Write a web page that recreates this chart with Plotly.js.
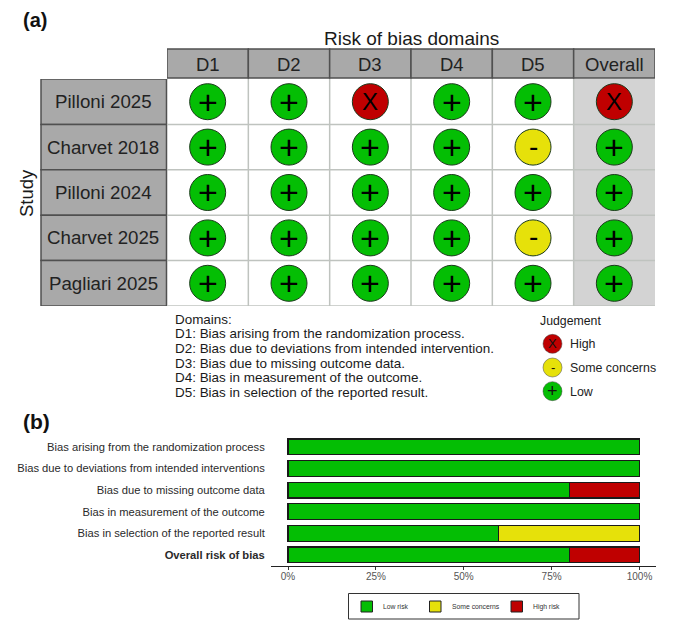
<!DOCTYPE html>
<html><head><meta charset="utf-8">
<script src="https://cdn.plot.ly/plotly-3.0.1.min.js"></script>
<style>html,body{margin:0;padding:0;background:#fff}#c{width:678px;height:629px}</style></head>
<body><div id="c"></div>
<script>
const domains = ['D1','D2','D3','D4','D5','Overall'];
const studies = ['Pilloni 2025','Charvet 2018','Pilloni 2024','Charvet 2025','Pagliari 2025'];
const pilloni2025 = ['Low','Low','High','Low','Low','High'];
const charvet2018 = ['Low','Low','Low','Low','Some concerns','Low'];
const pilloni2024 = ['Low','Low','Low','Low','Low','Low'];
const charvet2025 = ['Low','Low','Low','Low','Some concerns','Low'];
const pagliari2025 = ['Low','Low','Low','Low','Low','Low'];
const judgements = [pilloni2025,charvet2018,pilloni2024,charvet2025,pagliari2025];
const levels = ['High','Some concerns','Low'];
const domainNotes = ['Domains:','D1: Bias arising from the randomization process.','D2: Bias due to deviations from intended intervention.','D3: Bias due to missing outcome data.','D4: Bias in measurement of the outcome.','D5: Bias in selection of the reported result.'];
const biasItems = ['Bias arising from the randomization process','Bias due to deviations from intended interventions','Bias due to missing outcome data','Bias in measurement of the outcome','Bias in selection of the reported result','<b>Overall risk of bias</b>'];
const lowRisk = [100,100,80,100,60,80];
const someConcerns = [0,0,0,0,40,0];
const highRisk = [0,0,20,0,0,20];
const legendNames = ['Low risk','Some concerns','High risk'];

const W=678,H=629, px=x=>x/W, py=y=>1-y/H;
const GREEN='#04BE04',YEL='#E6E10A',RED='#BF0000';
const col={High:RED,'Some concerns':YEL,Low:GREEN};
const sym={High:'X','Some concerns':'-',Low:'+'};
const symSize={High:24,'Some concerns':28,Low:34};
const symShift={High:0,'Some concerns':1,Low:0};
const legSize={High:13,'Some concerns':13,Low:18};
const legShift={High:0,'Some concerns':0,Low:0};
const FONT='"Liberation Sans", Arial, sans-serif';

const gx=[],gy=[],gj=[];
judgements.forEach((row,i)=>row.forEach((j,k)=>{gx.push(domains[k]);gy.push(studies[i]);gj.push(j);}));
const barLine={color:'#1a1a1a',width:1.2};
const traces=[
 {type:'scatter',mode:'markers',xaxis:'x',yaxis:'y',x:gx,y:gy,cliponaxis:false,showlegend:false,
  marker:{size:36,color:gj.map(j=>col[j]),line:{color:'#1c3a1c',width:1}}},
 {type:'scatter',mode:'markers',xaxis:'x3',yaxis:'y3',x:levels.map(()=>0),y:levels,showlegend:false,
  marker:{size:19,color:levels.map(j=>col[j]),line:{color:'#444',width:.5}}},
 {type:'bar',orientation:'h',xaxis:'x2',yaxis:'y2',name:legendNames[0],y:biasItems,x:lowRisk,marker:{color:GREEN,line:barLine},showlegend:false},
 {type:'bar',orientation:'h',xaxis:'x2',yaxis:'y2',name:legendNames[1],y:biasItems,x:someConcerns,marker:{color:YEL,line:barLine},showlegend:false},
 {type:'bar',orientation:'h',xaxis:'x2',yaxis:'y2',name:legendNames[2],y:biasItems,x:highRisk,marker:{color:RED,line:barLine},showlegend:false}
];

const shapes=[],ann=[];
const T0=79,T1=306,S0=49,LX0=41,LX1=166.5;
gj.forEach((j,n)=>ann.push({xref:'x',yref:'y',x:gx[n],y:gy[n],text:sym[j],showarrow:false,xanchor:'center',yanchor:'middle',yshift:symShift[j],font:{family:FONT,size:symSize[j],color:'#000'}}));
levels.forEach(j=>ann.push({xref:'x3',yref:'y3',x:0,y:j,text:sym[j],showarrow:false,xanchor:'center',yanchor:'middle',yshift:legShift[j],font:{family:FONT,size:legSize[j],color:'#111'}}));
shapes.push({type:'rect',layer:'below',xref:'x',yref:'paper',x0:4.5,x1:5.5,y0:py(T1),y1:py(T0),fillcolor:'#d3d3d3',line:{width:0}});
for(let k=1;k<6;k++)shapes.push({type:'line',layer:'below',xref:'x',yref:'paper',x0:k-.5,x1:k-.5,y0:py(T1),y1:py(T0),line:{color:'#bfc3bf',width:1.5}});
for(let i=1;i<=5;i++)shapes.push({type:'line',layer:'below',xref:'x',yref:'y',x0:-.5,x1:5.5,y0:i-.5,y1:i-.5,line:{color:'#bfc3bf',width:1.5}});
domains.forEach((d,k)=>{
 shapes.push({type:'rect',layer:'below',xref:'x',yref:'paper',x0:k-.5,x1:k+.5,y0:py(T0-1),y1:py(S0),fillcolor:'#a9a9a9',line:{color:'#505050',width:1.5}});
 ann.push({xref:'x',yref:'paper',x:k,y:py(64.5),text:d,showarrow:false,xanchor:'center',yanchor:'middle',font:{family:FONT,size:18.5,color:'#222'}});
});
studies.forEach((s,i)=>{
 shapes.push({type:'rect',layer:'below',xref:'paper',yref:'y',x0:px(LX0),x1:px(LX1),y0:i-.5,y1:i+.5,fillcolor:'#a9a9a9',line:{color:'#505050',width:1.5}});
 ann.push({xref:'paper',yref:'y',x:px(103.5),y:s,text:s,showarrow:false,xanchor:'center',yanchor:'middle',font:{family:FONT,size:18.7,color:'#222'}});
});
const txt=(x,y,text,size,o={})=>ann.push(Object.assign({xref:'paper',yref:'paper',x:px(x),y:py(y),text,showarrow:false,xanchor:'left',yanchor:'middle',font:{family:FONT,size,color:'#1a1a1a'}},o));
txt(21,19.5,'<b>(a)</b>',20,{font:{family:FONT,size:20,color:'#111'}});
txt(21,421,'<b>(b)</b>',21,{font:{family:FONT,size:21,color:'#111'}});
txt(411,38,'Risk of bias domains',19,{xanchor:'center'});
txt(26,193,'Study',18.5,{xanchor:'center',textangle:-90});
domainNotes.forEach((t,i)=>txt(173,319+i*14.7,t,13.45));
txt(538,320.5,'Judgement',12.3);

shapes.push({type:'rect',xref:'paper',yref:'paper',x0:px(348.5),x1:px(579),y0:py(619),y1:py(593.5),line:{color:'#333',width:1},fillcolor:'rgba(0,0,0,0)'});
[[361,381],[429.5,449.7],[511,531]].forEach((p,i)=>{
 shapes.push({type:'rect',xref:'paper',yref:'paper',x0:px(p[0]),x1:px(p[0]+11.5),y0:py(612),y1:py(601),fillcolor:[GREEN,YEL,RED][i],line:{color:'#222',width:1}});
 txt(p[1],606.5,legendNames[i],6.8,{font:{family:FONT,size:6.8,color:'#333'}});
});

const layout={
 width:W,height:H,margin:{l:0,r:0,t:0,b:0},paper_bgcolor:'#fff',plot_bgcolor:'rgba(0,0,0,0)',
 font:{family:FONT},barmode:'stack',bargap:.27,showlegend:false,
 xaxis:{domain:[px(167),px(655)],type:'category',categoryorder:'array',categoryarray:domains,range:[-.5,5.5],showgrid:false,zeroline:false,showticklabels:false,ticks:'',anchor:'y'},
 yaxis:{domain:[py(T1),py(T0)],type:'category',categoryorder:'array',categoryarray:studies,range:[4.5,-.5],showgrid:false,zeroline:false,showticklabels:false,ticks:'',anchor:'x'},
 xaxis3:{domain:[px(536),px(569)],range:[-1,1],visible:false,anchor:'y3',fixedrange:true},
 yaxis3:{domain:[py(403),py(332)],type:'category',categoryorder:'array',categoryarray:levels,range:[2.5,-.5],side:'right',anchor:'x3',showgrid:false,zeroline:false,showline:false,ticks:'',tickfont:{family:FONT,size:12.4,color:'#222'}},
 xaxis2:{domain:[px(271),px(656)],range:[-4.84,104.7],anchor:'y2',showgrid:false,zeroline:false,showline:true,linecolor:'#222',linewidth:1,ticks:'outside',ticklen:3,tickcolor:'#333',ticklabelstandoff:-2,tickvals:[0,25,50,75,100],ticktext:['0%','25%','50%','75%','100%'],tickfont:{family:FONT,size:10,color:'#555'}},
 yaxis2:{domain:[py(565.8),py(436)],type:'category',categoryorder:'array',categoryarray:biasItems,range:[5.5,-.5],anchor:'x2',showgrid:false,zeroline:false,showline:false,ticks:'outside',ticklen:3,tickcolor:'rgba(0,0,0,0)',tickfont:{family:FONT,size:11.2,color:'#2a2a2a'}},
 shapes,annotations:ann
};
Plotly.newPlot('c',traces,layout,{displayModeBar:false,staticPlot:true});
</script></body></html>
